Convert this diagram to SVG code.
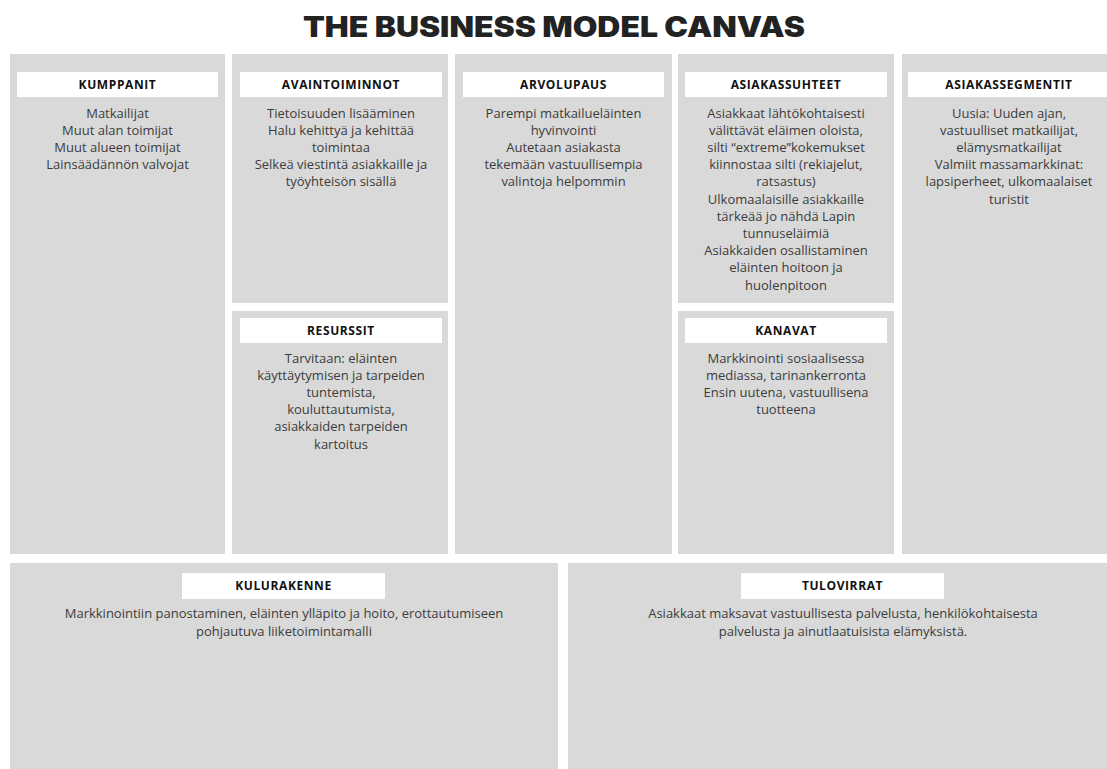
<svg xmlns="http://www.w3.org/2000/svg" width="1107" height="769" viewBox="0 0 1107 769">
<style>
.bg{fill:#ffffff}
.box{fill:#d9d9d9}
.hdr{fill:#ffffff}
.ht{font-family:"Open Sans","Liberation Sans",sans-serif;font-weight:700;font-size:12px;letter-spacing:0.6px;fill:#111111;text-anchor:middle}
.bt{font-family:"Open Sans","Liberation Sans",sans-serif;font-size:13px;fill:#3c3c3c;text-anchor:middle}
.title{font-family:Inter,"Liberation Sans",sans-serif;font-weight:900;font-size:28px;fill:#222222;text-anchor:middle}
</style>
<rect class="bg" x="0" y="0" width="1107" height="769"/>
<text class="title" x="554" y="37" textLength="502" lengthAdjust="spacingAndGlyphs">THE BUSINESS MODEL CANVAS</text>

<g id="kumppanit">
<rect class="box" x="10" y="54" width="215" height="500"/>
<rect class="hdr" x="17" y="72" width="201" height="25"/>
<text class="ht" x="117.5" y="89">KUMPPANIT</text>
<text class="bt" x="117.5" y="117.5">Matkailijat</text>
<text class="bt" x="117.5" y="134.7">Muut alan toimijat</text>
<text class="bt" x="117.5" y="151.9">Muut alueen toimijat</text>
<text class="bt" x="117.5" y="169.1">Lainsäädännön valvojat</text>
</g>

<g id="avaintoiminnot">
<rect class="box" x="232" y="54" width="216" height="249"/>
<rect class="hdr" x="240" y="72" width="202" height="25"/>
<text class="ht" x="341" y="89">AVAINTOIMINNOT</text>
<text class="bt" x="341" y="117.5">Tietoisuuden lisääminen</text>
<text class="bt" x="341" y="134.7">Halu kehittyä ja kehittää</text>
<text class="bt" x="341" y="151.9">toimintaa</text>
<text class="bt" x="341" y="169.1">Selkeä viestintä asiakkaille ja</text>
<text class="bt" x="341" y="186.3">työyhteisön sisällä</text>
</g>

<g id="resurssit">
<rect class="box" x="232" y="311" width="216" height="243"/>
<rect class="hdr" x="240" y="318" width="202" height="25"/>
<text class="ht" x="341" y="335">RESURSSIT</text>
<text class="bt" x="341" y="362.5">Tarvitaan: eläinten</text>
<text class="bt" x="341" y="379.7">käyttäytymisen ja tarpeiden</text>
<text class="bt" x="341" y="396.9">tuntemista,</text>
<text class="bt" x="341" y="414.1">kouluttautumista,</text>
<text class="bt" x="341" y="431.3">asiakkaiden tarpeiden</text>
<text class="bt" x="341" y="448.5">kartoitus</text>
</g>

<g id="arvolupaus">
<rect class="box" x="455" y="54" width="217" height="500"/>
<rect class="hdr" x="463" y="72" width="201" height="25"/>
<text class="ht" x="563.5" y="89">ARVOLUPAUS</text>
<text class="bt" x="563.5" y="117.5">Parempi matkailueläinten</text>
<text class="bt" x="563.5" y="134.7">hyvinvointi</text>
<text class="bt" x="563.5" y="151.9">Autetaan asiakasta</text>
<text class="bt" x="563.5" y="169.1">tekemään vastuullisempia</text>
<text class="bt" x="563.5" y="186.3">valintoja helpommin</text>
</g>

<g id="asiakassuhteet">
<rect class="box" x="678" y="54" width="216" height="249"/>
<rect class="hdr" x="685" y="72" width="202" height="25"/>
<text class="ht" x="786" y="89">ASIAKASSUHTEET</text>
<text class="bt" x="786" y="117.5">Asiakkaat lähtökohtaisesti</text>
<text class="bt" x="786" y="134.7">välittävät eläimen oloista,</text>
<text class="bt" x="786" y="151.9">silti “extreme”kokemukset</text>
<text class="bt" x="786" y="169.1">kiinnostaa silti (rekiajelut,</text>
<text class="bt" x="786" y="186.3">ratsastus)</text>
<text class="bt" x="786" y="203.5">Ulkomaalaisille asiakkaille</text>
<text class="bt" x="786" y="220.7">tärkeää jo nähdä Lapin</text>
<text class="bt" x="786" y="237.9">tunnuseläimiä</text>
<text class="bt" x="786" y="255.1">Asiakkaiden osallistaminen</text>
<text class="bt" x="786" y="272.3">eläinten hoitoon ja</text>
<text class="bt" x="786" y="289.5">huolenpitoon</text>
</g>

<g id="kanavat">
<rect class="box" x="678" y="311" width="216" height="243"/>
<rect class="hdr" x="685" y="318" width="202" height="25"/>
<text class="ht" x="786" y="335">KANAVAT</text>
<text class="bt" x="786" y="362.5">Markkinointi sosiaalisessa</text>
<text class="bt" x="786" y="379.7">mediassa, tarinankerronta</text>
<text class="bt" x="786" y="396.9">Ensin uutena, vastuullisena</text>
<text class="bt" x="786" y="414.1">tuotteena</text>
</g>

<g id="asiakassegmentit">
<rect class="box" x="902" y="54" width="215" height="500"/>
<rect class="hdr" x="908" y="72" width="202" height="25"/>
<text class="ht" x="1009" y="89">ASIAKASSEGMENTIT</text>
<text class="bt" x="1009" y="117.5">Uusia: Uuden ajan,</text>
<text class="bt" x="1009" y="134.7">vastuulliset matkailijat,</text>
<text class="bt" x="1009" y="151.9">elämysmatkailijat</text>
<text class="bt" x="1009" y="169.1">Valmiit massamarkkinat:</text>
<text class="bt" x="1009" y="186.3">lapsiperheet, ulkomaalaiset</text>
<text class="bt" x="1009" y="203.5">turistit</text>
</g>

<g id="kulurakenne">
<rect class="box" x="10" y="563" width="548" height="206"/>
<rect class="hdr" x="182" y="573" width="203" height="26"/>
<text class="ht" x="283.5" y="590">KULURAKENNE</text>
<text class="bt" x="284" y="617.5">Markkinointiin panostaminen, eläinten ylläpito ja hoito, erottautumiseen</text>
<text class="bt" x="284" y="635.5">pohjautuva liiketoimintamalli</text>
</g>

<g id="tulovirrat">
<rect class="box" x="568" y="563" width="549" height="206"/>
<rect class="hdr" x="741" y="573" width="203" height="26"/>
<text class="ht" x="842.5" y="590">TULOVIRRAT</text>
<text class="bt" x="843" y="617.5">Asiakkaat maksavat vastuullisesta palvelusta, henkilökohtaisesta</text>
<text class="bt" x="843" y="635.5">palvelusta ja ainutlaatuisista elämyksistä.</text>
</g>

<g id="connectors"/>
</svg>
